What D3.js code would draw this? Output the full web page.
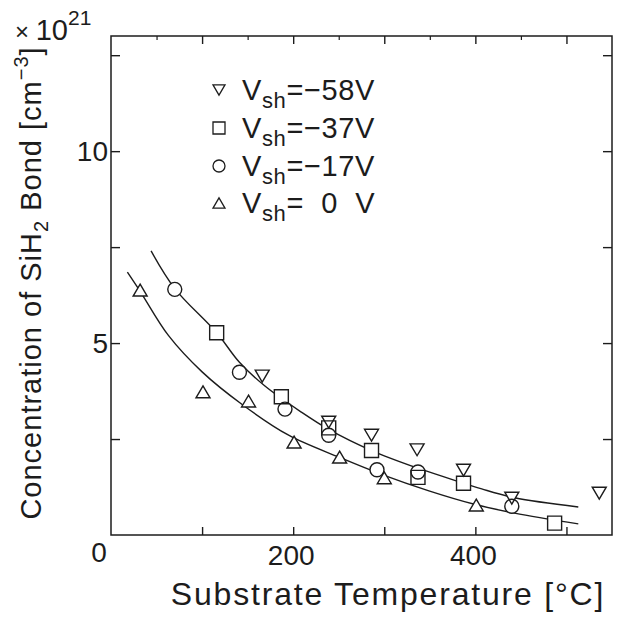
<!DOCTYPE html>
<html><head><meta charset="utf-8">
<script src="https://cdn.jsdelivr.net/npm/d3@7"></script>
<style>
body{margin:0;background:#fff}
text{font-family:"Liberation Sans",Arial,sans-serif;fill:#1c1c1c}
</style>
</head><body>
<svg id="c" width="621" height="620"></svg>
<script>
// ---- data ----
const xDomain = [0, 550];
const yDomain = [0, 13];
const xTicks = [100, 200, 300, 400, 500];
const xTopMinor = [50, 150, 250, 350, 450];
const xLabels = [200, 400];
const yTicks = [2.5, 5, 7.5, 10, 12.5];
const yLabels = [5, 10];

const seriesNames = ["\u221258V", "\u221237V", "\u221217V", "  0  V"];
const seriesShapes = ["down", "square", "circle", "up"];

const vsh58 = [[166,4.14],[239,2.94],[286,2.6],[336,2.22],[387,1.69],[440,0.96],[536,1.09]];
const vsh37 = [[116,5.27],[187,3.6],[239,2.79],[286,2.2],[337,1.5],[387,1.35],[487,0.31]];
const vsh17 = [[70,6.4],[141,4.24],[191,3.28],[239,2.6],[292,1.7],[337,1.64],[440,0.75]];
const vsh0  = [[32,6.38],[101,3.73],[151,3.49],[201,2.42],[251,2.03],[300,1.49],[401,0.78]];

const upperCurve = [[44,7.4],[70,6.42],[116,5.27],[141,4.5],[169,3.88],[209,3.2],[239,2.75],[286,2.2],[337,1.74],[387,1.35],[407,1.2],[443,0.97],[513,0.73]];
const lowerCurve = [[18,6.85],[32,6.35],[63,5.2],[100,4.25],[144,3.4],[195,2.6],[251,2.02],[297,1.58],[349,1.15],[399,0.8],[443,0.57],[513,0.29]];

// ---- layout ----
const svg = d3.select("#c");
const L = 111, R = 612, T = 36, B = 535;
const x = d3.scaleLinear().domain(xDomain).range([L, R]);
const y = d3.scaleLinear().domain(yDomain).range([B, T]);
const ink = "#1c1c1c";

function shapePath(kind, s) {
  if (kind === "circle") return d3.symbol().type(d3.symbolCircle).size(Math.PI*s*s)();
  if (kind === "square") return `M${-s},${-s}H${s}V${s}H${-s}Z`;
  const h = s*0.85;
  if (kind === "up") return `M0,${-h}L${s},${h}L${-s},${h}Z`;
  return `M0,${h}L${s},${-h}L${-s},${-h}Z`;
}

// frame
svg.append("rect").attr("x", L).attr("y", T).attr("width", R-L).attr("height", B-T)
  .attr("fill", "none").attr("stroke", ink).attr("stroke-width", 1.5);

function ticks(axis, tr, vals, size, w) {
  const g = svg.append("g").attr("transform", tr)
    .call(axis.tickValues(vals).tickSizeInner(-size).tickSizeOuter(0).tickFormat(""));
  g.select(".domain").remove();
  g.selectAll("line").attr("stroke", ink).attr("stroke-width", w);
}
ticks(d3.axisBottom(x), `translate(0,${B})`, xTicks, 8, 1.4);
ticks(d3.axisTop(x), `translate(0,${T})`, xTicks, 8, 1.4);
ticks(d3.axisTop(x), `translate(0,${T})`, xTopMinor, 4, 1.2);
ticks(d3.axisLeft(y), `translate(${L},0)`, yTicks, 9, 1.4);
ticks(d3.axisRight(y), `translate(${R},0)`, yTicks, 9, 1.4);

// tick labels
svg.selectAll(".xl").data(xLabels).enter().append("text")
  .attr("x", d => x(d) - 2).attr("y", 565).attr("text-anchor", "middle")
  .attr("font-size", 28).text(d => d);
svg.selectAll(".yl").data(yLabels).enter().append("text")
  .attr("x", 108).attr("y", d => y(d) + 10).attr("text-anchor", "end")
  .attr("font-size", 28).text(d => d);
svg.append("text").attr("x", 99).attr("y", 562).attr("text-anchor", "middle")
  .attr("font-size", 28).text("0");

// multiplier
const mult = svg.append("text").attr("x", 15).attr("y", 40).attr("font-size", 29);
mult.append("tspan").attr("font-size", 24).text("\u00d7 ");
mult.append("tspan").text("10");
mult.append("tspan").attr("font-size", 21).attr("dy", -15).text("21");

// axis titles
svg.append("text").attr("x", 388).attr("y", 605).attr("text-anchor", "middle")
  .attr("font-size", 32).attr("letter-spacing", 1.8).text("Substrate Temperature [\u00b0C]");
const yt = svg.append("text").attr("transform", "translate(41,283) rotate(-90)")
  .attr("text-anchor", "middle").attr("font-size", 29).attr("letter-spacing", 1);
yt.append("tspan").text("Concentration of SiH");
yt.append("tspan").attr("font-size", 20).attr("dy", 7).text("2");
yt.append("tspan").attr("dy", -7).text(" Bond [cm");
yt.append("tspan").attr("font-size", 20).attr("dy", -13).text("\u22123");
yt.append("tspan").attr("dy", 13).text("]");

// curves
const line = d3.line().x(d => x(d[0])).y(d => y(d[1])).curve(d3.curveCatmullRom.alpha(0.5));
[upperCurve, lowerCurve].forEach(c => {
  svg.append("path").attr("d", line(c)).attr("fill", "none")
    .attr("stroke", ink).attr("stroke-width", 1.4);
});

// markers: fills first, then outlines
const allSeries = [vsh58, vsh37, vsh17, vsh0];
const fills = svg.append("g"), strokes = svg.append("g");
allSeries.forEach((data, i) => {
  const p = shapePath(seriesShapes[i], 7);
  fills.selectAll(null).data(data).enter().append("path")
    .attr("d", p).attr("transform", d => `translate(${x(d[0])},${y(d[1])})`)
    .attr("fill", "#fff").attr("stroke", "none");
  strokes.selectAll(null).data(data).enter().append("path")
    .attr("d", p).attr("transform", d => `translate(${x(d[0])},${y(d[1])})`)
    .attr("fill", "none").attr("stroke", ink).attr("stroke-width", 1.4);
});

// legend
const legY = [100, 138, 176, 213];
seriesNames.forEach((nm, i) => {
  svg.append("path").attr("d", shapePath(seriesShapes[i], 6))
    .attr("transform", `translate(219,${legY[i] - 10})`)
    .attr("fill", "none").attr("stroke", ink).attr("stroke-width", 1.3);
  const t = svg.append("text").attr("x", 242).attr("y", legY[i]).attr("font-size", 29)
    .attr("letter-spacing", 0.6).style("white-space", "pre");
  t.append("tspan").text("V");
  t.append("tspan").attr("font-size", 22).attr("dy", 8).text("sh");
  t.append("tspan").attr("dy", -8).text("=" + nm);
});
</script>
</body></html>
